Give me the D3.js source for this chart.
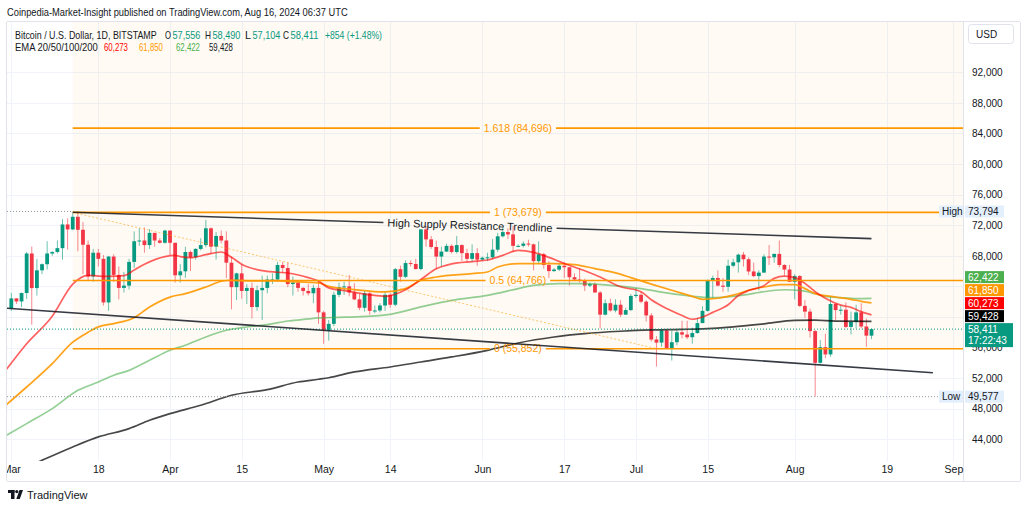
<!DOCTYPE html>
<html><head><meta charset="utf-8">
<script src="https://cdn.jsdelivr.net/npm/d3@7"></script>
<style>
html,body{margin:0;padding:0;background:#fff;}
svg{display:block;font-family:"Liberation Sans",Arial,sans-serif;}
</style></head><body>
<svg id="c" width="1024" height="509"></svg>
<script>
// ---------------- DATA ----------------
const startDate = "2024-03-01";   // first candle, one candle per day after it
// [open, high, low, close]
const candles = [
 [61150,63150,60800,62430],[62430,62450,61700,62030],[62030,63200,61300,63130],[63130,68500,62350,68300],
 [68300,69200,59000,63780],[63780,67600,62800,66100],[66100,67000,65600,66900],[66900,69900,66200,68300],
 [68300,68600,68000,68500],[68500,70000,68300,69000],[69000,72800,67500,72100],[72100,72900,68800,71450],
 [71450,73650,71350,73100],[73100,73794,68600,71400],[71400,72400,65600,69450],[69450,70000,64800,65300],
 [65300,68900,64600,68400],[68400,68900,66600,67600],[67600,68100,61500,61900],[61900,68000,60800,67900],
 [67900,68200,64600,65500],[65500,66600,62300,63800],[63800,65900,63200,64100],[64100,67600,63600,67200],
 [67200,71200,66400,69900],[69900,71600,69300,70000],[70000,71700,68400,69400],[69400,71500,68900,71000],
 [71000,71000,69200,70000],[70000,70300,69600,69700],[69700,71400,69600,71300],
 // Apr
 [71300,71300,68100,69700],[69700,69700,64500,65450],[65450,66900,64500,65970],[65970,69200,65100,68500],
 [68500,68700,66000,67800],[67800,69000,67500,68900],[68900,70300,68700,69400],[69400,72700,69100,71600],
 [71600,71700,68300,69200],[69200,71100,67500,70600],[70600,71300,69600,70000],[70000,71200,65100,67100],
 [67100,67900,61000,63900],[63900,65800,62200,65700],[65700,66900,62400,63400],[63400,64300,61700,63800],
 [63800,64500,59800,61300],[61300,64100,60800,63500],[63500,65400,59600,63800],[63800,65400,63100,64900],
 [64900,65700,64300,64900],[64900,67200,64600,66800],[66800,67200,65800,66400],[66400,67100,63900,64300],
 [64300,65300,62800,64500],[64500,64800,63300,63800],[63800,63900,62800,63400],[63400,64300,62800,63100],
 [63100,64200,61800,63800],[63800,64700,59100,60600],
 // May
 [60600,60800,56500,58300],[58300,59600,56900,59100],[59100,63300,58800,62900],[62900,64500,62600,63900],
 [63900,64600,62900,64000],[64000,65500,62700,63200],[63200,64400,62200,62300],[62300,63000,60900,61200],
 [61200,63400,60700,63100],[63100,63400,60300,60800],[60800,61500,60500,60850],[60850,61800,60600,61500],
 [61500,63400,60800,62900],[62900,63100,61200,61600],[61600,66400,61400,66250],[66250,66700,64600,65250],
 [65250,67400,65100,67050],[67050,67400,66600,66930],[66930,67600,66200,66270],[66270,71500,66100,71450],
 [71450,71900,69200,70150],[70150,70600,68900,69150],[69150,70000,66300,67900],[67900,69200,66600,68550],
 [68550,69600,68500,69300],[69300,69500,68300,68500],[68500,70600,68300,69400],[69400,69500,67300,68350],
 [68350,68900,67200,67600],[67600,69500,67200,68350],[68350,69000,66700,67500],
 // Jun
 [67500,67900,67400,67750],[67750,68400,67300,67800],[67800,70200,67600,68800],[68800,71000,68500,70550],
 [70550,71700,70400,71100],[71100,71600,70200,70800],[70800,71900,68500,69300],[69300,69500,69100,69300],
 [69300,69900,69100,69600],[69600,70100,69200,69500],[69500,69600,66100,67300],[67300,69900,66900,68200],
 [68200,68400,66300,66800],[66800,67300,65100,66000],[66000,66400,65900,66200],[66200,66900,66000,66700],
 [66700,67200,65100,66500],[66500,66500,64100,65200],[65200,65700,64700,64900],[64900,66400,64500,64800],
 [64800,65000,63400,64100],[64100,64500,63900,64300],[64300,64500,63200,63200],[63200,63400,58500,60300],
 [60300,62300,60200,61800],[61800,62400,60700,60850],[60850,62300,60600,61600],[61600,62200,60000,60300],
 [60300,61200,60300,60900],[60900,63000,60800,62750],
 // Jul
 [62750,63800,62500,62900],[62900,63300,61800,62000],[62000,62200,59400,60200],[60200,60500,56800,57050],
 [57050,57500,53500,56650],[56650,58500,56100,58230],[58230,58400,55800,55850],[55850,58200,54300,56700],
 [56700,58300,56300,58000],[58000,59500,57200,57700],[57700,59500,57100,57350],[57350,58600,56500,57900],
 [57900,59900,57800,59200],[59200,61400,59200,60800],[60800,64900,60700,64750],[64750,65400,62500,65100],
 [65100,66100,64000,64100],[64100,65100,63300,63950],[63950,67500,63300,66700],[66700,67600,66500,67150],
 [67150,68300,65800,68150],[68150,68500,66600,67550],[67550,67800,65500,65950],[65950,67100,65200,65350],
 [65350,66100,63500,65800],[65800,68200,65800,67900],[67900,69400,66800,67800],[67800,68300,67100,68250],
 [68250,70000,66500,66800],[66800,66900,65400,66200],[66200,66800,64600,64600],
 // Aug
 [64600,65600,62300,65350],[65350,65500,61300,61450],[61450,62200,59900,60700],[60700,61100,57300,58150],
 [58150,58300,49577,54000],[54000,57000,53900,56050],[56050,57800,54600,55100],[55100,62700,54800,61700],
 [61700,61800,59600,60900],[60900,61500,60300,60950],[60950,61900,58500,58700],[58700,60700,57700,59350],
 [59350,61600,58500,60600],[60600,61800,58500,58750],[58750,59800,56100,57556],[57556,58490,57104,58411]
];

// EMA values: [day after startDate, value]
const ema20 = [[-1,53100],[3,56500],[8,60100],[12,64300],[15,65450],[17,65350],[19,65300],[22,65400],[24,66150],[26,66900],[30,67900],[32,68050],[33,67900],[35,67750],[38,68150],[41,68500],[43,67800],[45,66900],[49,66050],[52,65850],[54,65750],[58,65150],[60,64700],[62,63800],[66,63350],[70,62900],[73,62700],[77,63550],[80,64900],[83,66300],[86,66950],[90,67250],[93,67450],[96,68050],[99,68700],[102,68450],[105,67800],[108,67000],[112,66050],[115,65230],[119,63950],[123,63300],[125,62250],[128,61100],[131,60200],[133,59700],[135,60000],[137,60600],[140,61600],[142,62800],[144,63450],[147,64100],[149,65050],[151,65350],[153,65150],[155,64400],[157,63300],[159,62450],[162,61550],[164,61250],[166,60700],[168,60273]];
const ema50 = [[-1,48500],[3,50840],[8,53900],[12,56700],[15,58000],[17,58700],[20,59130],[24,59900],[27,61300],[31,62600],[34,63050],[38,63920],[41,64670],[43,64800],[47,64710],[52,64710],[56,64580],[60,64450],[62,64000],[67,63580],[73,63270],[77,63710],[80,64800],[83,65230],[90,65670],[93,65880],[95,66540],[99,66980],[103,66980],[106,66980],[110,66850],[114,66330],[118,65760],[121,65150],[125,64300],[129,63490],[133,62700],[135,62300],[138,62450],[141,62850],[144,63490],[147,63920],[150,64230],[153,64230],[155,63710],[157,63050],[161,62610],[164,62310],[166,62050],[168,61850]];
const ema100 = [[-1,44500],[3,46050],[8,48010],[13,50400],[17,51490],[20,52370],[23,53020],[27,54330],[31,55640],[34,56300],[38,57380],[42,58260],[46,58690],[50,59000],[54,59470],[58,59740],[60,59870],[64,59950],[67,60000],[74,60350],[80,61310],[86,62180],[93,62830],[99,63710],[102,64140],[107,64360],[112,64360],[117,64140],[123,63710],[128,63140],[133,62700],[137,62530],[141,62700],[144,62960],[146,63200],[151,63560],[154,63490],[157,63050],[159,62700],[162,62530],[165,62400],[168,62422]];
const ema200 = [[-1,39100],[6,41250],[12,43000],[17,44310],[23,45400],[27,46490],[31,47360],[37,48450],[43,49760],[50,50500],[56,51490],[60,51850],[62,52050],[67,52810],[74,53460],[80,54110],[86,54770],[93,55640],[99,56600],[106,57380],[112,57820],[119,58130],[125,58300],[131,58380],[135,58450],[141,58700],[147,59100],[153,59550],[157,59580],[161,59450],[168,59428]];

const yTicks = [44000,48000,52000,56000,60000,64000,68000,72000,76000,80000,84000,88000,92000];
const xTickDates = ["2024-03-01","2024-03-18","2024-04-01","2024-04-15","2024-05-01","2024-05-14","2024-06-01","2024-06-17","2024-07-01","2024-07-15","2024-08-01","2024-08-19","2024-09-01"];
const xTickLabels = ["Mar","18","Apr","15","May","14","Jun","17","Jul","15","Aug","19","Sep"];

const fibLevels = [84696, 73679, 64766, 55852];
const fibLabels = ["1.618 (84,696)", "1 (73,679)", "0.5 (64,766)", "0 (55,852)"];
const fibAnchors = [[12, 73679], [126, 55852]];
const resistanceLine = [[12, 73700], [168, 70250]];
const supportLine = [[-1, 61140], [180, 52700]];
const highValue = 73794, lowValue = 49577;
const lastPrice = 58411, lastCountdown = "17:22:43";
const emaNames = ["EMA 20", "EMA 50", "EMA 100", "EMA 200"];
const emaLast = [60273, 61850, 62422, 59428];
const headerOHLC = ["57,556", "58,490", "57,104", "58,411"];
const headerChange = "+854 (+1.48%)";

// ---------------- CHART ----------------
const svg = d3.select("#c");
const P = {l:7, r:963, t:22, b:461};
const parse = d3.utcParse("%Y-%m-%d");
const t0 = parse(startDate);
const dayDate = n => d3.utcDay.offset(t0, n);
const x = d3.scaleUtc().domain([t0, parse("2024-09-01")]).range([11.3, 953.4]);
const y = d3.scaleLinear().domain([44000, 92000]).range([439.3, 72.3]);
const step = x(dayDate(1)) - x(dayDate(0));
const fmt = d3.format(",");

const UP = "#089981", DN = "#f23645", TXT = "#131722";
const emaColors = ["#ff0000", "#ff9800", "#4caf50", "#000000"];

const defs = svg.append("defs");
defs.append("clipPath").attr("id","plotClip").append("rect")
  .attr("x",P.l).attr("y",P.t).attr("width",P.r-P.l).attr("height",P.b-P.t);
defs.append("clipPath").attr("id","axClip").append("rect")
  .attr("x",P.l).attr("y",0).attr("width",P.r-P.l+6).attr("height",20);

svg.append("rect").attr("width",1024).attr("height",509).attr("fill","#fff");

const plot = svg.append("g").attr("clip-path","url(#plotClip)");

// grid
plot.append("g").selectAll("line").data(yTicks).join("line")
  .attr("x1",P.l).attr("x2",P.r).attr("y1",d=>Math.round(y(d))+0.5).attr("y2",d=>Math.round(y(d))+0.5)
  .attr("stroke","#f0f3fa").attr("stroke-width",1);
plot.append("g").selectAll("line").data(xTickDates).join("line")
  .attr("y1",P.t).attr("y2",P.b).attr("x1",d=>Math.round(x(parse(d)))+0.5).attr("x2",d=>Math.round(x(parse(d)))+0.5)
  .attr("stroke","#f0f3fa").attr("stroke-width",1);

// fib background
const fibX0 = x(dayDate(fibAnchors[0][0]));
plot.append("rect").attr("x",fibX0).attr("y",P.t).attr("width",P.r-fibX0)
  .attr("height",y(fibLevels[3])-P.t).attr("fill","rgba(255,152,0,0.045)");

// candles
const cg = plot.append("g");
candles.forEach((c,i)=>{
  const [o,h,l,cl] = c;
  const cx = x(dayDate(i));
  const col = cl>=o ? UP : DN;
  cg.append("line").attr("x1",cx).attr("x2",cx).attr("y1",y(h)).attr("y2",y(l))
    .attr("stroke",col).attr("stroke-width",1).attr("stroke-opacity",0.6);
  const bt = y(Math.max(o,cl)), bb = y(Math.min(o,cl));
  cg.append("rect").attr("x",cx-step*0.37).attr("width",step*0.74)
    .attr("y",bt).attr("height",Math.max(1,bb-bt)).attr("fill",col);
});

// EMA lines
const line = d3.line().x(d=>x(dayDate(d[0]))).y(d=>y(d[1])).curve(d3.curveMonotoneX);
[ema200, ema100, ema50, ema20].forEach((arr,k)=>{
  const idx = 3-k;
  const op = [0.62, 0.9, 0.6, 0.72][idx];
  plot.append("path").attr("d",line(arr)).attr("fill","none")
    .attr("stroke",emaColors[idx]).attr("stroke-opacity",op).attr("stroke-width",1.7);
});

// dotted lines: high (visible left of the fib tool), low, last price
plot.append("line").attr("x1",P.l).attr("x2",fibX0).attr("y1",y(highValue)).attr("y2",y(highValue))
  .attr("stroke","#9598a1").attr("stroke-width",1).attr("stroke-dasharray","1,2");
plot.append("line").attr("x1",P.l).attr("x2",939).attr("y1",y(lowValue)).attr("y2",y(lowValue))
  .attr("stroke","#9598a1").attr("stroke-width",1).attr("stroke-dasharray","1,2");
plot.append("line").attr("x1",P.l).attr("x2",P.r).attr("y1",y(lastPrice)).attr("y2",y(lastPrice))
  .attr("stroke",UP).attr("stroke-width",1).attr("stroke-dasharray","1,2");

// fib diagonal
plot.append("line")
  .attr("x1",x(dayDate(fibAnchors[0][0]))).attr("y1",y(fibAnchors[0][1]))
  .attr("x2",x(dayDate(fibAnchors[1][0]))).attr("y2",y(fibAnchors[1][1]))
  .attr("stroke","#ff9800").attr("stroke-opacity",0.55).attr("stroke-width",1).attr("stroke-dasharray","2,2");

// fib levels with labels in the middle
const fibMid = (fibX0 + P.r)/2;
fibLevels.forEach((v,i)=>{
  const yy = y(v);
  const t = plot.append("text").attr("x",fibMid).attr("y",yy+3.5).attr("text-anchor","middle")
    .attr("font-size",10.5).attr("fill","#ff9800").text(fibLabels[i]);
  const w = t.node().getComputedTextLength();
  plot.append("line").attr("x1",fibX0).attr("x2",fibMid-w/2-4).attr("y1",yy).attr("y2",yy)
    .attr("stroke","#ff9800").attr("stroke-width",1.6);
  plot.append("line").attr("x1",fibMid+w/2+4).attr("x2",P.r).attr("y1",yy).attr("y2",yy)
    .attr("stroke","#ff9800").attr("stroke-width",1.6);
});

// trend lines
function trend(pts, label){
  const x1=x(dayDate(pts[0][0])), y1=y(pts[0][1]), x2=x(dayDate(pts[1][0])), y2=y(pts[1][1]);
  if(!label){
    plot.append("line").attr("x1",x1).attr("y1",y1).attr("x2",x2).attr("y2",y2)
      .attr("stroke","#131722").attr("stroke-opacity",0.85).attr("stroke-width",1.6);
    return;
  }
  const s=(y2-y1)/(x2-x1), cx=470, cy=y1+s*(cx-x1);
  const ang = Math.atan(s)*180/Math.PI;
  const t = plot.append("text").attr("x",cx).attr("y",cy+3.8).attr("text-anchor","middle")
    .attr("font-size",11).attr("fill",TXT).attr("transform",`rotate(${ang},${cx},${cy})`).text(label);
  const w = t.node().getComputedTextLength();
  const a = cx-w/2-4, b = cx+w/2+4;
  plot.append("line").attr("x1",x1).attr("y1",y1).attr("x2",a).attr("y2",y1+s*(a-x1))
    .attr("stroke","#131722").attr("stroke-opacity",0.85).attr("stroke-width",1.6);
  plot.append("line").attr("x1",b).attr("y1",y1+s*(b-x1)).attr("x2",x2).attr("y2",y2)
    .attr("stroke","#131722").attr("stroke-opacity",0.85).attr("stroke-width",1.6);
}
trend(resistanceLine, "High Supply Resistance Trendline");
trend(supportLine, null);

// borders
svg.append("line").attr("x1",P.l-0.5).attr("x2",P.l-0.5).attr("y1",P.t).attr("y2",481).attr("stroke","#e0e3eb");
svg.append("line").attr("x1",P.r+0.5).attr("x2",P.r+0.5).attr("y1",P.t).attr("y2",481).attr("stroke","#e0e3eb");
svg.append("line").attr("x1",P.l).attr("x2",1020).attr("y1",P.t-0.5).attr("y2",P.t-0.5).attr("stroke","#e0e3eb");
svg.append("line").attr("x1",P.l).attr("x2",1020).attr("y1",481.5).attr("y2",481.5).attr("stroke","#e0e3eb");
svg.append("line").attr("x1",1020.5).attr("x2",1020.5).attr("y1",P.t).attr("y2",481).attr("stroke","#e0e3eb");

// badge positions (stacked upward from the last price)
const badges = [];
let badgeTop = y(lastPrice)-6;
badges.push({top:badgeTop, h:24, w:48, col:UP, lines:[fmt(lastPrice), lastCountdown]});
[3,0,1,2].forEach(k=>{
  badgeTop = Math.min(y(emaLast[k])-6, badgeTop-13);
  badges.push({top:badgeTop, h:12, w:39, col:emaColors[k], lines:[fmt(emaLast[k])]});
});
const stackTop = badgeTop, stackBottom = badges[0].top + badges[0].h;

// y axis (labels whose centre falls under the badge stack are covered, as in the reference)
const hidden = v => y(v) >= stackTop && y(v) <= stackBottom;
const yAxis = svg.append("g").attr("transform",`translate(972,0)`)
  .call(d3.axisRight(y).tickValues(yTicks.filter(v=>!hidden(v))).tickFormat(fmt).tickSize(0).tickPadding(0));
yAxis.select(".domain").remove();
yAxis.selectAll("text").attr("font-size",10).attr("fill",TXT).attr("font-family","Liberation Sans, Arial, sans-serif");

// x axis
const xAxis = svg.append("g").attr("transform",`translate(0,${P.b})`).attr("clip-path","url(#axClip)")
  .call(d3.axisBottom(x).tickValues(xTickDates.map(parse)).tickFormat((d,i)=>xTickLabels[i]).tickSize(0).tickPadding(5));
xAxis.select(".domain").remove();
xAxis.selectAll("text").attr("font-size",10.5).attr("fill",TXT).attr("font-family","Liberation Sans, Arial, sans-serif");

// USD box
svg.append("rect").attr("x",968.5).attr("y",24.5).attr("width",45).attr("height",19).attr("rx",3)
  .attr("fill","#fff").attr("stroke","#e0e3eb");
svg.append("text").attr("x",976).attr("y",37.5).attr("font-size",10).attr("fill",TXT).text("USD");

// High / Low labels
[[highValue,"High"],[lowValue,"Low"]].forEach(([v,lab])=>{
  const yy=y(v);
  svg.append("rect").attr("x",939).attr("y",yy-6).attr("width",24).attr("height",12).attr("fill","#e3effd");
  svg.append("text").attr("x",942).attr("y",yy+3.5).attr("font-size",10).attr("fill",TXT).text(lab);
  svg.append("rect").attr("x",965).attr("y",yy-6).attr("width",39).attr("height",12).attr("fill","#e3effd");
  svg.append("text").attr("x",968).attr("y",yy+3.5).attr("font-size",10).attr("fill",TXT).text(fmt(v));
});

// badges
badges.forEach(b=>{
  svg.append("rect").attr("x",965).attr("y",b.top).attr("width",b.w).attr("height",b.h).attr("fill",b.col);
  b.lines.forEach((s,j)=>svg.append("text").attr("x",968).attr("y",b.top+9.5+j*11.5)
    .attr("font-size",10).attr("fill","#fff").text(s));
});

// header texts: each piece is narrowed horizontally to the width it has in the reference
function txt(xp, yp, s, col, w, fs){
  const g = svg.append("g");
  const t = g.append("text").attr("x",0).attr("y",0).attr("font-size",fs||10.5).attr("fill",col).text(s);
  const nat = t.node().getComputedTextLength();
  const sx = w ? w/nat : 1;
  g.attr("transform",`translate(${xp},${yp}) scale(${sx},1)`);
}
txt(7,16,"Coinpedia-Market-Insight published on TradingView.com, Aug 16, 2024 06:37 UTC",TXT,341,11);
txt(15,38.5,"Bitcoin / U.S. Dollar, 1D, BITSTAMP",TXT,142);
["O","H","L","C"].forEach((p,i)=>{
  const xs=[165,205,245,283][i];
  txt(xs,38.5,p,TXT,6);
  txt(xs+7.5,38.5,headerOHLC[i],UP,28);
});
txt(325,38.5,headerChange,UP,57);
txt(15,50.5,"EMA 20/50/100/200",TXT,83);
const emaTextCol = ["#ff0000","#ff9800","#4caf50","#131722"];
[104,139,176,209].forEach((xs,i)=>txt(xs,50.5,fmt(emaLast[i]),emaTextCol[i],24));

// TradingView logo
const lg = svg.append("g").attr("fill",TXT);
lg.append("rect").attr("x",8).attr("y",490).attr("width",6.5).attr("height",3);
lg.append("rect").attr("x",11).attr("y",490).attr("width",3.5).attr("height",9);
lg.append("circle").attr("cx",16.8).attr("cy",491.6).attr("r",1.6);
lg.append("path").attr("d","M19.5,490 L23,490 L19.8,499 L16.3,499 Z");
svg.append("text").attr("x",27).attr("y",498.5).attr("font-size",11).attr("fill",TXT).text("TradingView");
</script>
</body></html>
